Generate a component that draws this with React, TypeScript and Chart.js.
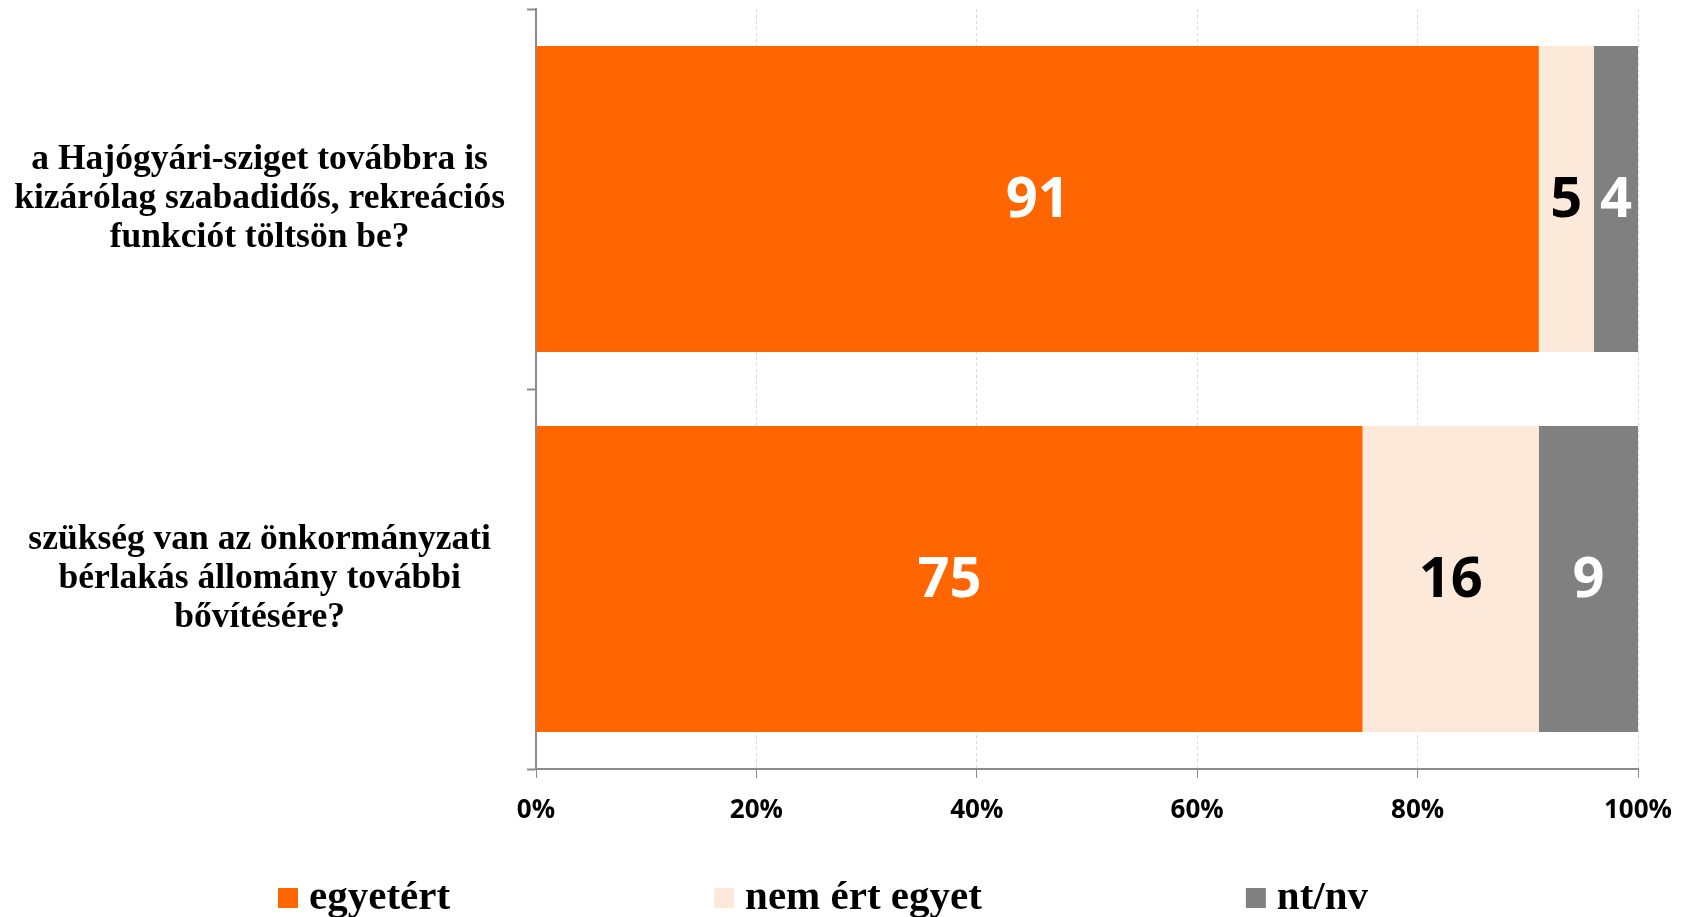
import React, { useEffect, useRef } from "react";
import { Chart, registerables } from "chart.js";

Chart.register(...registerables);

// ---- data ----
const categories: string[][] = [
  ["a Hajógyári-sziget továbbra is", "kizárólag szabadidős, rekreációs", "funkciót töltsön be?"],
  ["szükség van az önkormányzati", "bérlakás állomány további", "bővítésére?"],
];
const seriesNames = ["egyetért", "nem ért egyet", "nt/nv"];
const agree = [91, 75];
const disagree = [5, 16];
const dontKnow = [4, 9];
const tickLabels = ["0%", "20%", "40%", "60%", "80%", "100%"];

// ---- styles ----
const colors = ["#FF6600", "#FDE9D9", "#808080"];
const labelColors = ["#FFFFFF", "#000000", "#FFFFFF"];
const axisGray = "#8C8C8C";

const dataLabelPlugin = {
  id: "dataLabels",
  afterDatasetsDraw(chart: any) {
    const ctx = chart.ctx;
    ctx.save();
    ctx.font = 'bold 56px "Open Sans"';
    ctx.textAlign = "center";
    ctx.textBaseline = "middle";
    chart.data.datasets.forEach((ds: any, di: number) => {
      const meta = chart.getDatasetMeta(di);
      meta.data.forEach((el: any, i: number) => {
        const p = el.getProps(["x", "y", "base"], true);
        ctx.fillStyle = labelColors[di];
        ctx.fillText(String(ds.data[i]), (p.x + p.base) / 2, p.y + 2);
      });
    });
    ctx.restore();
  },
};

const legendPlugin = {
  id: "customLegend",
  afterDraw(chart: any) {
    const ctx = chart.ctx;
    ctx.save();
    ctx.font = 'bold 41px "Liberation Serif"';
    ctx.textBaseline = "alphabetic";
    ctx.textAlign = "left";
    const box = 20;
    const gapText = 11;
    const gapItem = 264;
    const widths = seriesNames.map((n) => box + gapText + ctx.measureText(n).width);
    const total = widths.reduce((a, b) => a + b, 0) + gapItem * (widths.length - 1);
    let x = chart.width / 2 - 20 - total / 2;
    const baseline = chart.height - 8;
    seriesNames.forEach((n, i) => {
      ctx.fillStyle = colors[i];
      ctx.fillRect(x, baseline - 21, box, box);
      ctx.fillStyle = "#000000";
      ctx.fillText(n, x + box + gapText, baseline);
      x += widths[i] + gapItem;
    });
    ctx.restore();
  },
};

export default function App() {
  const canvasRef = useRef<HTMLCanvasElement | null>(null);

  useEffect(() => {
    document.body.style.margin = "0";
    document.body.style.overflow = "hidden";
    const canvas = canvasRef.current;
    if (!canvas) return;
    const chart = new Chart(canvas, {
      type: "bar",
      data: {
        labels: categories,
        datasets: [
          { label: seriesNames[0], data: agree, backgroundColor: colors[0] },
          { label: seriesNames[1], data: disagree, backgroundColor: colors[1] },
          { label: seriesNames[2], data: dontKnow, backgroundColor: colors[2] },
        ],
      },
      options: {
        indexAxis: "y",
        animation: false,
        responsive: false,
        devicePixelRatio: 1,
        layout: { padding: { top: 9, right: 48, bottom: 0, left: 0 } },
        datasets: {
          bar: { categoryPercentage: 1, barPercentage: 0.805, borderWidth: 0 },
        },
        plugins: {
          legend: { display: false },
          tooltip: { enabled: false },
          title: { display: false },
        },
        scales: {
          x: {
            stacked: true,
            min: 0,
            max: 100,
            afterFit: (s: any) => {
              s.height = 148;
              s.paddingLeft = 0;
              s.paddingRight = 0;
            },
            ticks: {
              stepSize: 20,
              padding: 17,
              color: "#000000",
              font: { family: '"Open Sans"', weight: "bold", size: 26 },
              callback: (v: any) => tickLabels[Math.round(Number(v) / 20)],
            },
            grid: {
              color: "#D9D9D9",
              lineWidth: 1,
              tickColor: axisGray,
              tickLength: 9,
              tickWidth: 1,
            },
            border: { color: axisGray, width: 2, dash: [3, 3] },
          },
          y: {
            stacked: true,
            afterFit: (s: any) => {
              s.width = 536;
              s.paddingTop = 0;
              s.paddingBottom = 0;
            },
            ticks: {
              crossAlign: "center",
              padding: 22,
              color: "#000000",
              font: { family: '"Liberation Serif"', weight: "bold", size: 35.5, lineHeight: 1.1 },
            },
            grid: {
              drawOnChartArea: false,
              tickColor: axisGray,
              tickLength: 9,
              tickWidth: 2,
            },
            border: { color: axisGray, width: 2 },
          },
        },
      },
      plugins: [dataLabelPlugin, legendPlugin],
    } as any);
    return () => chart.destroy();
  }, []);

  return (
    <div style={{ width: 1686, height: 917, position: "relative" }}>
      <canvas ref={canvasRef} width={1686} height={917} style={{ display: "block" }} />
    </div>
  );
}
